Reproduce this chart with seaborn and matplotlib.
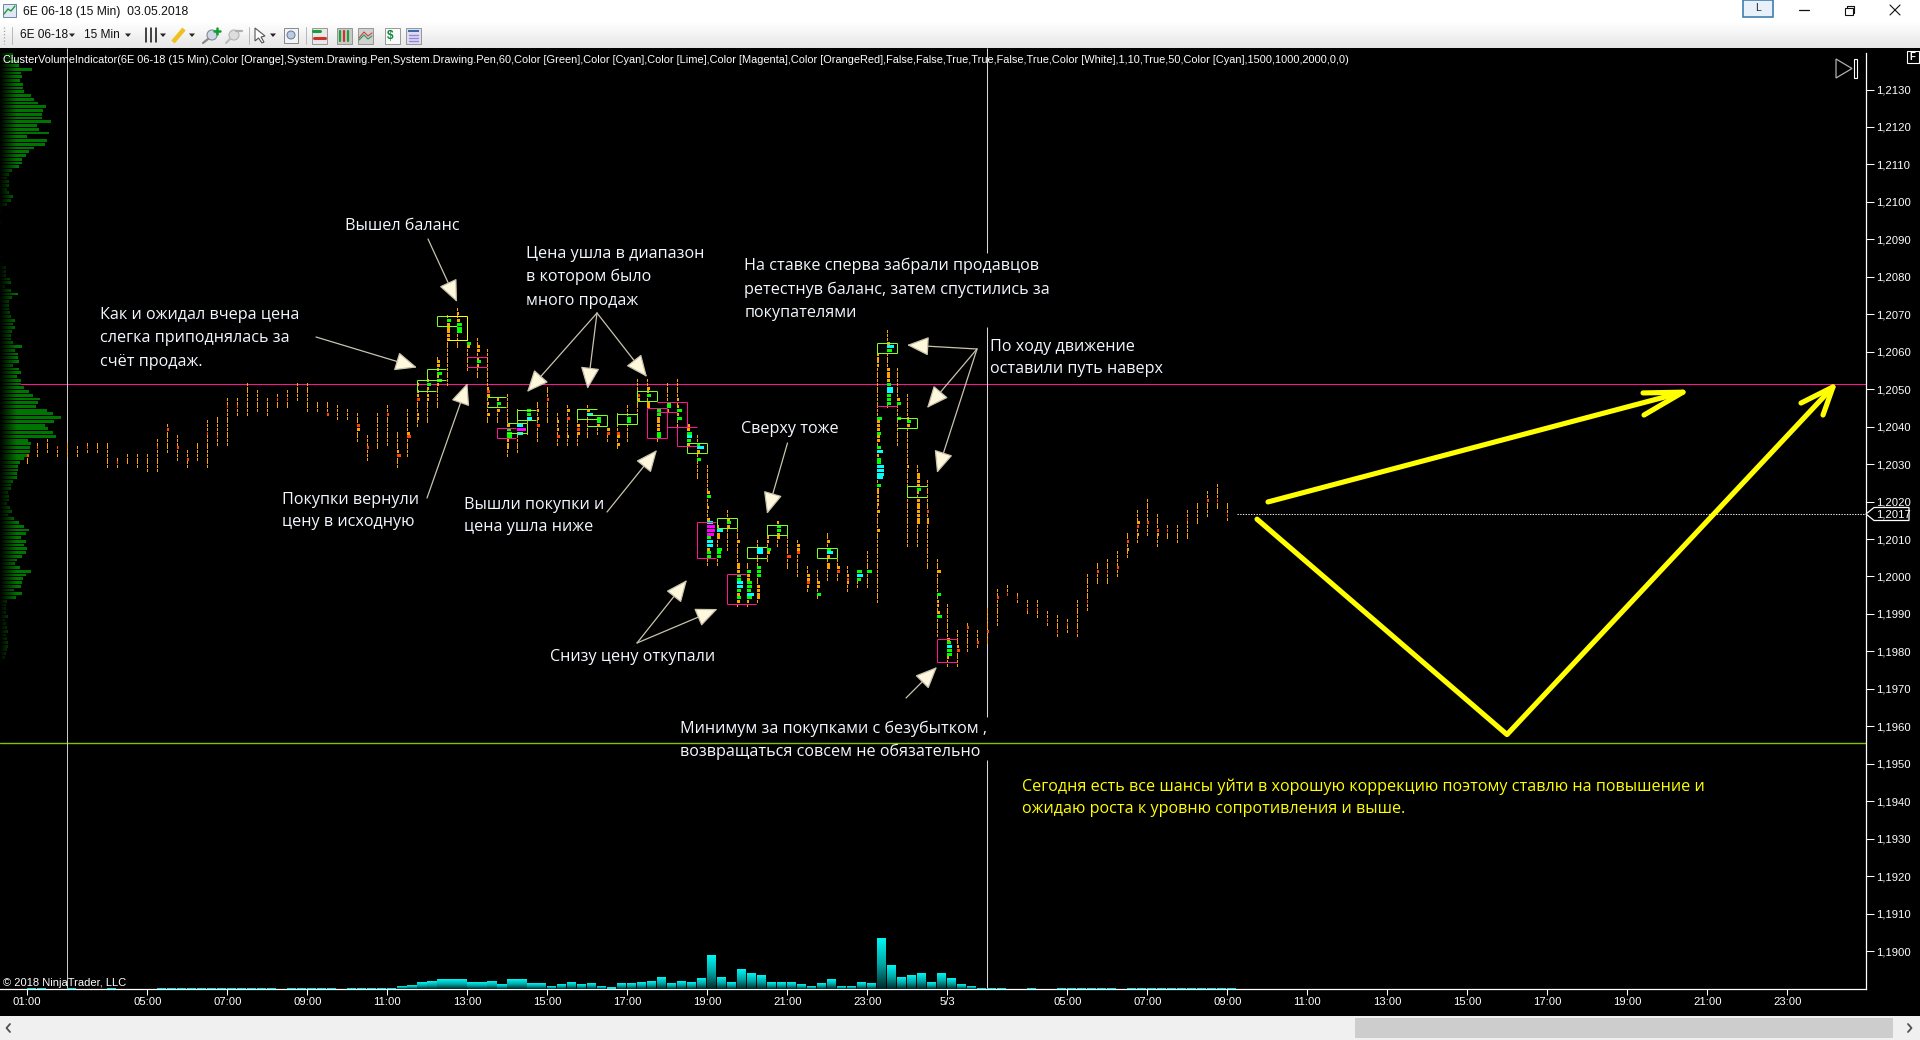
import numpy as np
import pandas as pd
import matplotlib
matplotlib.use("Agg")
import matplotlib.pyplot as plt
from matplotlib.colors import LinearSegmentedColormap
from matplotlib.patches import Rectangle, Polygon, Circle
from matplotlib.ticker import FixedLocator, FuncFormatter
import seaborn as sns

# Prices are stored in points of 0.0001, so 12052 reads as 1,2052.
bar_high = [12032,12035,12036,12034,12035,12034,12035,12035,12035,12031,12032,12032,12032,12036,12040,12037,12033,
            12035,12041,12042,12047,12047,12051,12049,12047,12048,12049,12051,12051,12046,12046,12045,12044,12043,
            12037,12043,12045,12038,12044,12051,12054,12058,12069,12071,12065,12063,12060,12047,12048,12044,12044,
            12046,12050,12043,12045,12044,12045,12042,12039,12043,12045,12052,12052,12044,12051,12052,12045,12037,
            12029,12013,12017,12012,12003,12009,12013,12014,12013,12009,12002,12001,12011,12005,12002,12001,12006,
            12059,12065,12055,12048,12029,12025,12004,11992,11985,11987,11985,11991,11996,11997,11995,11993,11993,
            11990,11989,11988,11993,12000,12003,12004,12006,12011,12017,12020,12016,12013,12013,12017,12019,12022,
            12024,12019]
bar_low = [12030,12032,12033,12032,12032,12032,12033,12033,12029,12029,12030,12029,12028,12028,12033,12031,12029,
           12031,12029,12035,12035,12043,12043,12044,12043,12045,12045,12047,12044,12044,12043,12042,12042,12036,
           12031,12034,12035,12029,12032,12040,12041,12045,12051,12061,12055,12053,12041,12041,12032,12033,12038,
           12036,12041,12035,12035,12035,12037,12038,12036,12034,12036,12041,12037,12036,12044,12037,12035,12026,
           12003,12003,12007,11992,11992,11993,12004,12008,12002,12000,11996,11994,11999,11999,11996,11997,11997,
           11993,12045,12035,12008,12008,12002,11984,11976,11976,11980,11981,11982,11987,11995,11993,11990,11989,
           11987,11984,11985,11984,11991,11998,11998,12000,12005,12009,12011,12008,12010,12009,12010,12014,12016,
           12018,12015]

# Clusters that stand out inside a bar: (bar, price, cluster volume).
orange_cells = [(33,12039,3),(37,12033,2),(38,12038,3),(39,12051,2),(39,12049,2),(39,12048,2),(39,12043,2),(39,12042,2),
    (40,12052,2),(40,12050,2),(40,12048,2),(40,12047,2),(41,12057,3),(41,12056,3),(41,12055,2),(41,12053,2),(41,12051,2),
    (42,12067,3),(42,12066,3),(42,12065,3),(42,12064,3),(42,12063,3),(43,12070,2),(43,12068,3),(44,12061,3),
    (45,12061,3),(45,12060,3),(45,12058,2),(45,12056,2),(46,12050,2),(46,12048,3),(46,12046,2),(46,12043,3),
    (47,12047,2),(47,12044,3),(48,12040,3),(48,12036,2),(48,12035,2),(48,12034,2),(51,12044,2),(51,12042,2),
    (53,12041,2),(53,12039,2),(54,12044,3),(54,12037,2),(55,12040,3),(55,12038,3),(56,12044,3),(57,12040,3),(58,12039,3),
    (59,12037,3),(59,12035,3),(61,12047,3),(62,12050,3),(62,12049,2),(62,12046,3),(62,12045,3),(63,12042,3),(63,12041,3),
    (63,12040,3),(63,12039,3),(64,12044,2),(65,12047,2),(65,12045,2),(65,12043,2),(66,12040,3),(66,12039,3),(66,12035,3),
    (67,12033,3),(68,12022,3),(68,12018,2),(68,12015,3),(68,12007,3),(69,12013,2),(69,12011,3),(69,12010,3),
    (70,12015,3),(70,12013,3),(71,12009,3),(71,12003,3),(71,12002,3),(71,12001,3),(71,11995,3),(71,11993,3),
    (72,12000,3),(72,11999,3),(72,11993,2),(73,11997,3),(73,11996,3),(73,11995,3),(73,11994,3),(74,12010,2),(74,12009,2),
    (74,12006,3),(75,12014,2),(75,12011,3),(75,12010,3),(77,12008,3),(77,12007,3),(78,12000,3),(78,11999,3),(78,11997,2),
    (79,11998,3),(79,11997,3),(80,12009,3),(80,12005,3),(80,12003,3),(80,12002,3),(81,12002,3),(82,12000,2),(82,11998,2),
    (85,12059,2),(85,12058,2),(85,12057,2),(85,12056,2),(85,12041,3),(85,12040,3),(85,12039,3),(85,12037,3),(85,12036,3),
    (85,12032,2),(85,12023,2),(85,12022,2),(85,12021,2),(85,12020,2),(85,12019,2),(85,12017,3),(85,12012,3),
    (86,12062,3),(86,12055,3),(86,12054,3),(86,12053,3),(86,12052,3),(87,12047,3),(88,12042,2),(88,12040,3),(88,12029,2),
    (89,12027,3),(89,12026,3),(89,12025,3),(89,12024,3),(89,12022,2),(89,12020,3),(89,12019,3),(89,12018,3),(89,12017,3),
    (89,12016,3),(89,12015,3),(89,12014,3),(90,12015,2),(90,12014,2),(91,12001,4),(91,11993,2),(91,11992,2),(91,11990,3),
    (92,11983,3),(92,11978,2),(93,11981,2),(110,12007,2),(111,12014,3),(111,12011,2),(113,12011,2)]
orangered_cells = [(0,12032,2),(14,12039,2),(15,12034,2),(16,12031,2),(30,12043,2),(33,12040,3),(34,12034,2),(36,12043,2),
    (37,12032,4),(38,12037,4),(39,12047,3),(46,12049,3),(51,12040,3),(52,12047,2),(53,12037,3),(54,12042,3),(55,12039,3),
    (58,12038,3),(59,12038,3),(61,12048,3),(76,12005,4),(77,12006,3),(78,11998,3),(81,12001,3),(82,11999,2),(90,12017,2),
    (93,11980,3),(94,11986,2),(95,11982,2),(96,11985,2),(97,11994,2),(107,12001,2),(109,12002,2),(110,12009,2),
    (111,12013,2),(112,12014,2),(113,12012,2),(118,12020,2),
    (1,12034,1),(3,12034,1),(6,12034,1),(9,12030,1),(13,12034,1),(18,12038,1),(19,12037,1),(20,12045,1),(21,12045,1),
    (25,12047,1),(26,12047,1),(98,11995,1),(99,11994,1),(100,11991,1),(101,11991,1),(102,11988,1),(103,11985,1),(104,11987,1),
    (105,11985,1),(106,11993,1),(108,12001,1),(114,12012,1),(116,12015,1),(119,12020,1),(120,12016,1)]
green_cells = [(40,12051,4),(41,12054,5),(41,12052,5),(42,12068,4),(43,12067,5),(43,12066,5),(43,12065,5),(44,12062,4),
    (45,12057,4),(47,12046,4),(48,12039,4),(48,12038,5),(48,12037,5),(50,12044,4),(50,12043,4),(57,12042,4),(57,12041,4),
    (60,12042,4),(60,12041,4),(62,12048,4),(63,12044,4),(63,12043,4),(63,12038,4),(63,12037,4),(64,12046,4),(64,12045,4),
    (65,12044,5),(65,12042,5),(66,12038,5),(66,12036,4),(67,12035,3),(67,12031,4),(68,12021,4),(68,12010,4),(68,12006,4),
    (68,12005,4),(69,12007,5),(69,12006,4),(69,12005,4),(70,12014,4),(71,12000,4),(71,11999,4),(71,11996,4),(71,11994,4),
    (72,12001,4),(72,11998,5),(72,11997,5),(72,11996,4),(72,11994,5),(73,12002,4),(73,12001,4),(73,12000,4),(74,12007,4),
    (75,12013,4),(75,12012,4),(79,11995,4),(80,12007,4),(83,12001,5),(83,11999,4),(84,12001,5),(85,12042,5),(85,12038,4),
    (85,12034,4),(85,12031,4),(85,12030,4),(85,12024,4),(86,12060,5),(86,12051,4),(86,12048,4),(86,12047,4),(86,12046,4),
    (87,12046,4),(87,12042,4),(88,12041,4),(89,12023,4),(91,11995,4),(91,11989,5),(92,11982,4),(92,11980,5),(92,11979,5)]
cyan_cells = [(49,12040,6),(49,12038,6),(50,12042,5),(56,12043,6),(66,12037,5),(67,12034,7),(68,12014,6),(68,12009,6),
    (68,12008,6),(69,12012,6),(71,11998,6),(71,11997,6),(72,11995,7),(73,12007,6),(73,12006,6),(80,12006,6),(83,12000,6),
    (85,12033,6),(85,12029,7),(85,12028,7),(85,12027,7),(85,12026,6),(86,12061,7),(86,12050,6),(86,12049,6),(92,11981,5)]
magenta_cells = [(49,12039,9),(68,12013,8),(68,12012,8),(68,12011,7)]

# Imbalance zones: left bar, right bar, upper price, lower price, edge flags.
lime_zones = [(39,40.87,12052.45,12049.6,1,0),(40,41.83,12055.3,12052.45,1,0),(41,42.93,12069.5,12066.9,1,0),
    (46,47.87,12047.8,12045.2,0,0),(48,50,12040.9,12038.2,0,1),(49,50.87,12044.4,12041.7,1,0),(55,57,12044.6,12042,1,0),
    (56,58,12043,12040.3,0,1),(59,61,12043.4,12040.7,1,1),(61,63,12049.5,12046.8,1,1),(66,68,12035.5,12032.9,1,1),
    (69,71,12015.5,12012.9,1,1),(72,74,12008,12004.8,1,0),(74,76,12013.7,12011,1,1),(79,81,12007.6,12004.8,1,1),
    (85,87,12062.3,12059.6,1,1),(87,89,12042.3,12039.6,0,1),(88,90,12024.1,12021.3,1,0)]
pink_zones = [(44,45.93,12058.5,12055.8,0,0),(47,48.87,12039.6,12036.9,1,0),(62,64,12044.9,12036.9,1,1),
    (63,65,12046.5,12043.8,0,0),(64,66,12046.5,12040,0,1),(65,67,12040,12034.9,1,0),(67,68.87,12014.5,12004.9,1,0),
    (70,71.87,12000.6,11992.6,1,0),(71,72.87,11992.6,11992.6,0,0),(85,87,12045.5,12045.5,0,0),(91,93,11983.3,11977.3,1,0)]
yellow_zones = [(42,44,12069.5,12063,0,1)]

# Volume per 15-minute bar.
bar_volume = [4,4,0,0,4,0,0,0,4,0,0,0,0,4,3,3,3,3,3,3,3,3,3,3,3,0,3,3,3,3,3,0,3,3,3,3,3,
    9,12,21,24,30,30,30,21,21,24,15,30,30,18,18,9,15,21,15,18,9,6,18,18,21,24,36,18,24,21,33,99,36,21,57,45,39,
    21,21,21,15,9,18,30,9,9,21,18,150,69,36,39,45,21,45,33,15,9,3,3,
    3,0,0,3,0,0,3,3,3,3,3,3,0,3,3,3,3,3,3,3,3,3,3,3]

# Volume profile, one row per price point from the top of the pane down.
profile_top = 12139
profile_volume = [39,39,54,57,95,62,65,60,68,68,71,92,101,113,137,128,125,125,152,110,116,146,80,140,134,101,86,77,65,65,
    56,35,26,20,26,26,20,26,38,32,20,6,6,0,0,6,0,0,0,0,0,0,0,0,6,0,6,17,17,17,29,32,14,32,53,35,26,26,26,29,32,44,38,44,
    35,32,32,38,65,44,53,53,
    57,38,57,62,50,62,63,71,86,98,119,113,107,140,158,182,161,134,143,158,167,83,92,89,89,80,71,59,53,53,50,50,38,32,32,
    23,26,26,20,29,35,23,41,56,71,86,77,62,77,71,80,77,65,50,44,59,92,77,68,65,62,41,65,47,20,17,17,17,23,14,17,20,23,17,
    20,23,23,20,17,14,6]
# Session label per tick position on the bar axis.
time_ticks = [0,12,20,28,36,44,52,60,68,76,84,92,104,112,120,128,136,144,152,160,168,176]
time_labels = ["01:00","05:00","07:00","09:00","11:00","13:00","15:00","17:00","19:00","21:00","23:00","5/3",
               "05:00","07:00","09:00","11:00","13:00","15:00","17:00","19:00","21:00","23:00"]
price_ticks = list(range(11900, 12131, 10))

resistance_level = 12051.3
support_level = 11955.5
last_price = 12016.7
session_bars = [4, 96]

# Hand-drawn scenario arrows on the price pane.
scenario_up_bars = [124.07, 165.57]
scenario_up_prices = [12019.9, 12049.2]
scenario_up_head_bars = [161.57, 165.57, 161.67]
scenario_up_head_prices = [12049.0, 12049.2, 12043.1]
scenario_v_bars = [122.97, 147.97, 180.57]
scenario_v_prices = [12015.3, 11957.8, 12050.6]
scenario_v_head_bars = [177.37, 180.57, 179.57]
scenario_v_head_prices = [12046.3, 12050.6, 12043.1]

indicator_title = ("ClusterVolumeIndicator(6E 06-18 (15 Min),Color [Orange],System.Drawing.Pen,System.Drawing.Pen,60,"
    "Color [Green],Color [Cyan],Color [Lime],Color [Magenta],Color [OrangeRed],False,False,True,True,False,True,"
    "Color [White],1,10,True,50,Color [Cyan],1500,1000,2000,0,0)")

notes = [
    (345, 224, "Вышел баланс"),
    (100, 313.5, "Как и ожидал вчера цена"), (100, 336.5, "слегка приподнялась за"), (100, 360, "счёт продаж."),
    (526.5, 252, "Цена ушла в диапазон"), (526.5, 275.5, "в котором было"), (526.5, 299, "много продаж"),
    (744.5, 264.5, "На ставке сперва забрали продавцов"), (744.5, 288, "ретестнув баланс, затем спустились за"),
    (744.5, 311, "покупателями"),
    (990.5, 345, "По ходу движение"), (990.5, 367, "оставили путь наверх"),
    (741, 427, "Сверху тоже"),
    (281.5, 498, "Покупки вернули"), (281.5, 520, "цену в исходную"),
    (464, 503, "Вышли покупки и"), (464, 525, "цена ушла ниже"),
    (550, 655, "Снизу цену откупали"),
    (680, 727, "Минимум за покупками с безубытком ,"), (680, 750, "возвращаться совсем не обязательно"),
]
forecast_notes = [
    (1022.5, 785, "Сегодня есть все шансы уйти в хорошую коррекцию поэтому ставлю на повышение и"),
    (1022.5, 807, "ожидаю роста к уровню сопротивления и выше."),
]
note_arrows = [
    ((316, 337), (417, 367.5)), ((428, 239), (457, 302)), ((427, 498), (467.5, 383)),
    ((597, 313), (527, 392)), ((597, 313), (587.5, 389)), ((597, 313), (647, 377)),
    ((607, 512), (657, 450)), ((637, 643), (687, 580)), ((637, 643), (717.5, 609)),
    ((787.5, 443), (767, 514)), ((977, 349), (907, 345)), ((977, 349), (927, 408)),
    ((977, 349), (937, 473)), ((906, 698), (937, 667)),
]

sns.set_style("dark", {"axes.facecolor": "black", "figure.facecolor": "#f0f0f0"})
plt.rcParams["font.family"] = ["Liberation Sans", "DejaVu Sans"]
plt.rcParams["axes.grid"] = False

W, H = 1920, 1040
PANE_L, PANE_R, PANE_T, PANE_B = 0, 1866, 48, 989
fig = plt.figure(figsize=(W / 100, H / 100), dpi=100, facecolor="#f0f0f0")
pane_rect = [PANE_L / W, 1 - PANE_B / H, (PANE_R - PANE_L) / W, (PANE_B - PANE_T) / H]

# Black frame behind the pane, including the time-axis strip.
frame = fig.add_axes([0, 0, 1, 1], zorder=0)
frame.set_xlim(0, W); frame.set_ylim(H, 0); frame.axis("off")
frame.add_patch(Rectangle((0, 48), W, 968, fc="black", ec="none"))

BAR_PX, BAR_ZERO = 10.0, 27.3
xlim = ((PANE_L - BAR_ZERO) / BAR_PX, (PANE_R - BAR_ZERO) / BAR_PX)
LEVEL_PX = 3.746
ylim = (12130 - (PANE_B - 89.5) / LEVEL_PX, 12130 + (89.5 - PANE_T) / LEVEL_PX)

ax = fig.add_axes(pane_rect, zorder=1, facecolor="black")
ax.set_xlim(*xlim); ax.set_ylim(*ylim)

# Reference levels and session separators sit below the candles.
ax.axhline(resistance_level, color="#ff1493", lw=0.75, zorder=1)
ax.axhline(support_level, color="#7fc400", lw=1.0, zorder=1)
ax.vlines(session_bars[0], *ylim, color="#c8c8c8", lw=0.75, zorder=1)
gap_prices = [ylim[0], 11951.0, 11962.5, 12066.6, 12086.4, ylim[1]]
ax.vlines([session_bars[1]] * 3, gap_prices[0::2], gap_prices[1::2], color="#d8d8d8", lw=0.75, zorder=1)
ax.plot([121, xlim[1]], [last_price, last_price], color="#e8e8e8", lw=0.75, ls=(0, (1.3, 1.3)), zorder=1)


def draw_cells(bars, levels, widths, color, z):
    # One cluster: a rectangle growing to the right of the bar position.
    ax.bar(np.asarray(bars), 0.8, width=np.asarray(widths) * 0.1, bottom=np.asarray(levels) + 0.3 - 0.4,
           align="edge", color=color, linewidth=0, antialiased=False, zorder=z)


base_bars, base_levels = [], []
for i, (hi, lo) in enumerate(zip(bar_high, bar_low)):
    for lvl in range(lo, hi + 1):
        base_bars.append(i)
        base_levels.append(lvl)
draw_cells(base_bars, base_levels, [1.1] * len(base_bars), "#ffa500", 3)

for cells, color in [(orange_cells, "#ffa500"), (orangered_cells, "#ff4500"), (green_cells, "#00ff00"),
                     (cyan_cells, "#00ffff"), (magenta_cells, "#ff00ff")]:
    cb, cl, cv = zip(*cells)
    draw_cells(cb, cl, cv, color, 4)


def draw_zones(zones, color):
    for left, right, top, bottom, has_left, has_right in zones:
        xs, ys = [[left, right], [left, right]], [[top, top], [bottom, bottom]]
        for x, y in zip(xs, ys):
            ax.plot(x, y, color=color, lw=0.72, zorder=5, solid_capstyle="butt")
        if has_left:
            ax.plot([left, left], [top, bottom], color=color, lw=0.72, zorder=5, solid_capstyle="butt")
        if has_right:
            ax.plot([right, right], [top, bottom], color=color, lw=0.72, zorder=5, solid_capstyle="butt")


draw_zones(lime_zones, "#7fff1a")
draw_zones(pink_zones, "#ff1493")
draw_zones(yellow_zones, "#ffff00")

for xs, ys in [(scenario_up_bars, scenario_up_prices), (scenario_up_head_bars, scenario_up_head_prices),
               (scenario_v_bars, scenario_v_prices), (scenario_v_head_bars, scenario_v_head_prices)]:
    ax.plot(xs, ys, color="#ffff00", lw=3.7, solid_capstyle="round", solid_joinstyle="round", zorder=6)

# Axis furniture: white time axis below, price axis on the right.
for side in ("left", "top"):
    ax.spines[side].set_visible(False)
for side in ("right", "bottom"):
    ax.spines[side].set_visible(True)
    ax.spines[side].set_color("white")
    ax.spines[side].set_linewidth(0.9)
ax.spines["right"].set_bounds(ylim[0], 12139.7)
ax.xaxis.set_major_locator(FixedLocator(time_ticks))
ax.xaxis.set_major_formatter(FuncFormatter(lambda v, p: time_labels[time_ticks.index(int(round(v)))]))
ax.yaxis.tick_right()
ax.yaxis.set_major_locator(FixedLocator(price_ticks))
ax.yaxis.set_major_formatter(FuncFormatter(lambda v, p: f"{v / 1e4:.4f}".replace(".", ",")))
ax.tick_params(axis="x", colors="white", length=4, width=0.75, direction="out", pad=1.5, labelsize=8.1, bottom=True)
ax.tick_params(axis="y", colors="white", length=5.5, width=0.75, direction="out", pad=1.5, labelsize=8.1, right=True, left=False)

# Volume pane: bars start at the bar position and fade towards the baseline.
ax_vol = fig.add_axes(pane_rect, zorder=2, facecolor="none")
vol_df = pd.DataFrame({"bar": np.arange(len(bar_volume)) + 0.45, "volume": bar_volume})
sns.barplot(data=vol_df, x="bar", y="volume", native_scale=True, width=0.9, color="#00e8e8", saturation=1,
            errorbar=None, linewidth=0, ax=ax_vol)
ax_vol.set_xlim(*xlim)
ax_vol.set_ylim(0, (PANE_B - PANE_T) * 3)
vol_fade = LinearSegmentedColormap.from_list("vol_fade", ["#00f4f4", "#00a8a8", "#002a2a"])
fade = np.linspace(0, 1, 32).reshape(-1, 1)
for patch in list(ax_vol.patches):
    if patch.get_height() > 6:
        bx, by, bw, bh = patch.get_x(), patch.get_y(), patch.get_width(), patch.get_height()
        ax_vol.imshow(fade, cmap=vol_fade, extent=(bx, bx + bw, by, by + bh), aspect="auto", zorder=3,
                      interpolation="bilinear")
ax_vol.set_xlim(*xlim)
ax_vol.set_ylim(0, (PANE_B - PANE_T) * 3)
ax_vol.set_axis_off()

# Volume profile along the left edge, fading out into the frame.
ax_prof = fig.add_axes(pane_rect, zorder=2, facecolor="none")
prof_prices = profile_top - np.arange(len(profile_volume))
prof_df = pd.DataFrame({"price": prof_prices + 0.4, "volume": profile_volume})
prof_df = prof_df[prof_df.volume > 0]
sns.barplot(data=prof_df, x="volume", y="price", orient="y", native_scale=True, width=0.75, color="#007400",
            saturation=1, errorbar=None, linewidth=0, ax=ax_prof)
prof_span = (PANE_R - PANE_L) * 3
rgba = np.zeros((1, 64, 4))
rgba[..., 3] = np.linspace(1, 0, 64)
ax_prof.imshow(rgba, extent=(0, 50, prof_prices.min(), profile_top + 1), aspect="auto", zorder=3)
ax_prof.set_xlim(0, prof_span)
ax_prof.set_ylim(*ylim)
ax_prof.set_axis_off()

# Everything in window pixels from here on: chrome, captions and notes.
ui = fig.add_axes([0, 0, 1, 1], zorder=5, facecolor="none")
ui.set_xlim(0, W); ui.set_ylim(H, 0); ui.axis("off")
LS = "Liberation Sans"

ui.add_patch(Rectangle((0, 0), W, 22, fc="white", ec="none"))
bar_shade = LinearSegmentedColormap.from_list("shade", ["#ffffff", "#e6e6e6"])
ui.imshow(np.linspace(0, 1, 24).reshape(-1, 1), cmap=bar_shade, extent=(0, W, 48, 22), aspect="auto", zorder=0.5)
ui.set_xlim(0, W); ui.set_ylim(H, 0)

# Window title and buttons
ui.add_patch(Rectangle((3, 4), 13, 13, fc="#dfe8f4", ec="#6a87a8", lw=0.7))
ui.plot([4, 8, 11, 15], [14, 9, 11, 6], color="#1f9a3a", lw=1.0)
ui.text(23, 12, "6E 06-18 (15 Min)  03.05.2018", color="#111111", fontsize=8.7, family=LS, va="center")
ui.add_patch(Rectangle((1743, 0), 30, 17, fc="#e8f1fa", ec="#3c7fb1", lw=1.2))
ui.text(1758, 8, "L", color="#222222", fontsize=7.5, family=LS, ha="center", va="center")
ui.plot([1799, 1809], [10, 10], color="#111111", lw=0.9)
ui.add_patch(Rectangle((1845, 8), 7.5, 7, fc="none", ec="#111111", lw=0.8))
ui.plot([1847, 1847, 1854, 1854, 1852.5], [8, 6, 6, 12.5, 12.5], color="#111111", lw=0.8)
ui.plot([1890, 1900], [5, 15], color="#111111", lw=0.8)
ui.plot([1890, 1900], [15, 5], color="#111111", lw=0.8)

# Toolbar
ui.plot([4, 4], [27, 44], color="#a0a0a0", lw=0.9, ls=(0, (1, 1.6)))
ui.plot([12, 12], [27, 44], color="#b8b8b8", lw=0.7)
ui.text(20, 35, "6E 06-18", color="#111111", fontsize=8.6, family=LS, va="center")
ui.text(84, 35, "15 Min", color="#111111", fontsize=8.6, family=LS, va="center")
for ax_x in (72, 128, 163, 192, 273):
    ui.add_patch(Polygon([(ax_x - 3, 33.5), (ax_x + 3, 33.5), (ax_x, 37)], fc="#222222", ec="none"))
for sx in (146, 151, 156):
    ui.plot([sx, sx], [28, 42], color="#111111", lw=1.1)
ui.plot([173, 184], [42, 29], color="#f0c020", lw=3.2, solid_capstyle="butt")
ui.add_patch(Circle((212, 35), 5, fc="#cfd8e4", ec="#7c8a9a", lw=0.8))
ui.plot([208, 203], [39, 43], color="#8a8a8a", lw=1.6)
ui.plot([214, 220], [31, 31], color="#0aa030", lw=1.8)
ui.plot([217, 217], [28, 34], color="#0aa030", lw=1.8)
ui.add_patch(Circle((234, 35), 5, fc="#dddddd", ec="#b4b4b4", lw=0.8))
ui.plot([230, 226], [39, 43], color="#bcbcbc", lw=1.6)
ui.plot([236, 242], [31, 31], color="#b0b0b0", lw=1.6)
ui.plot([248.5, 248.5], [27, 44], color="#b8b8b8", lw=0.7)
ui.add_patch(Polygon([(255, 28), (255, 41), (258.5, 38), (262, 43), (264, 42), (261, 37), (265, 36)],
                     fc="white", ec="#555555", lw=0.8))
ui.add_patch(Rectangle((284, 28), 14, 15, fc="#f4f4f4", ec="#888888", lw=0.7))
ui.add_patch(Circle((291, 35), 4, fc="#b8cbe0", ec="#667a90", lw=0.7))
ui.plot([306, 306], [27, 44], color="#b8b8b8", lw=0.7)
for ix, fc in [(312, "#e8e8e8"), (337, "#c9c9c9"), (358, "#d0d0d0"), (385, "#fafafa"), (406, "#dcdcf2")]:
    ui.add_patch(Rectangle((ix, 28), 14.5, 15.5, fc=fc, ec="#8a8a8a", lw=0.6))
ui.plot([313, 320], [31, 31], color="#1aa03a", lw=2.2)
ui.plot([314, 325], [38, 38], color="#d0302a", lw=2.2)
for cx, c in [(340, "#1aa03a"), (344, "#d0302a"), (348, "#1aa03a")]:
    ui.plot([cx, cx], [31, 41], color=c, lw=1.6)
ui.plot([359, 364, 368, 372], [38, 32, 36, 33], color="#d04040", lw=0.8)
ui.plot([359, 364, 368, 372], [40, 35, 39, 36], color="#20a050", lw=0.8)
ui.text(390.5, 36, "$", color="#0a8a3a", fontsize=8.5, family=LS, weight="bold", ha="center", va="center")
ui.add_patch(Rectangle((408, 30), 10.5, 2.4, fc="#3a6ea8", ec="none"))
for ry in (35, 38, 41):
    ui.plot([409, 418], [ry, ry], color="#9a86d8", lw=1.0)

# Status strip and scrollbar
ui.add_patch(Rectangle((1355, 1018), 538, 20, fc="#cdcdcd", ec="none"))
ui.plot([10, 6.5, 10], [1024, 1028, 1032], color="#505050", lw=1.3)
ui.plot([1908, 1911.5, 1908], [1024, 1028, 1032], color="#505050", lw=1.3)

# Pane captions
ui.text(3, 60, indicator_title, color="white", fontsize=7.9, family=LS, va="center", zorder=8)
ui.text(3, 983, "© 2018 NinjaTrader, LLC", color="white", fontsize=8.0, family=LS, va="center", zorder=8)
ui.add_patch(Rectangle((1906.5, 50.5), 12, 12, fc="black", ec="white", lw=0.8))
ui.text(1912.5, 56.5, "F", color="white", fontsize=7, family=LS, weight="bold", ha="center", va="center")
ui.add_patch(Polygon([(1836, 59), (1852, 68.5), (1836, 78)], fc="none", ec="#b0b0b0", lw=0.9))
ui.add_patch(Rectangle((1853.5, 58.5), 3, 19.5, fc="none", ec="white", lw=0.8))

# Last price flag on the price axis
ui.add_patch(Polygon([(1866, 514), (1874, 507.5), (1909, 507.5), (1909, 520.5), (1874, 520.5)],
                     fc="black", ec="white", lw=0.9, zorder=8))
ui.text(1876, 514.3, "1,2017", color="white", fontsize=8.1, family=LS, va="center", zorder=9)

# Trader's notes with arrows
for tail, tip in note_arrows:
    ui.annotate("", xy=tip, xytext=tail, zorder=7,
                arrowprops=dict(arrowstyle="-|>,head_length=1.15,head_width=0.5", mutation_scale=12,
                                fc="#fff8dc", ec="#c8c4ae", lw=0.9, shrinkA=0, shrinkB=0))
for x, y, s in notes:
    ui.text(x, y + 1.8, s, color="#f4f8ff", fontsize=11.65, family=["Open Sans", "DejaVu Sans"], va="center", zorder=8)
for x, y, s in forecast_notes:
    ui.text(x, y + 1.8, s, color="#ffff00", fontsize=11.6, family=["Open Sans", "DejaVu Sans"], va="center", zorder=8)

fig.savefig("out.png", dpi=100, facecolor=fig.get_facecolor())
